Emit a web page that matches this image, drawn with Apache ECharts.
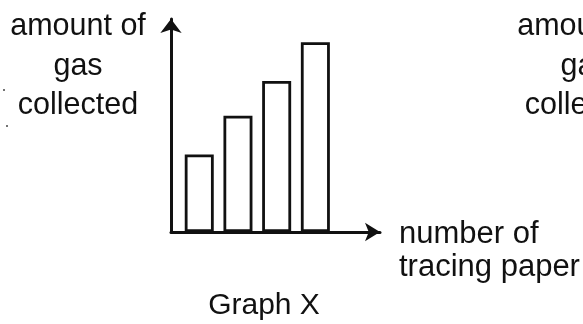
<!DOCTYPE html>
<html>
<head>
<meta charset="utf-8">
<script src="https://cdn.jsdelivr.net/npm/echarts@6/dist/echarts.min.js"></script>
<style>
html,body{margin:0;padding:0;background:#fff;}
#c{width:583px;height:324px;}
</style>
</head>
<body>
<div id="c"></div>
<script>
// Data
var barPositions = [1, 2, 3, 4];           // bar order along x
var gasAmounts = [2, 3, 3.9, 4.9];         // relative amount of gas collected
var yAxisLabelLines = ['amount of', 'gas', 'collected'];
var xAxisLabelLines = ['number of', 'tracing paper'];
var chartTitle = 'Graph X';

var chart = echarts.init(document.getElementById('c'), null, {renderer: 'canvas'});
var FONT = '"Liberation Sans", Arial, sans-serif';
var INK = '#111';

var graphics = [];
function addLines(lines, cx, firstY, step, align, size) {
  lines.forEach(function (t, i) {
    graphics.push({
      type: 'text',
      x: cx, y: firstY + i * step,
      style: {text: t, fill: INK, font: size + 'px ' + FONT, textAlign: align, textVerticalAlign: 'middle'}
    });
  });
}
addLines(yAxisLabelLines, 78, 27, 39.5, 'center', 30.5);
addLines(yAxisLabelLines, 585, 27, 39.5, 'center', 30.5);
addLines(xAxisLabelLines, 399, 234, 33, 'left', 31);
graphics.push({
  type: 'text', x: 264, y: 306,
  style: {text: chartTitle, fill: INK, font: '30px ' + FONT, textAlign: 'center', textVerticalAlign: 'middle'}
});
// faint scan specks at the left edge
graphics.push({type: 'circle', shape: {cx: 4, cy: 90, r: 1}, style: {fill: '#444'}});
graphics.push({type: 'circle', shape: {cx: 7, cy: 126, r: 1}, style: {fill: '#444'}});

chart.setOption({
  backgroundColor: '#fff',
  animation: false,
  grid: {left: 171, right: 203, top: 19, bottom: 92, containLabel: false},
  xAxis: {
    type: 'value', min: 0.27, max: 5.67,
    axisLine: {show: true, symbol: ['none', 'arrow'], symbolSize: [14, 15],
      lineStyle: {color: INK, width: 3}},
    axisTick: {show: false}, axisLabel: {show: false}, splitLine: {show: false}
  },
  yAxis: {
    type: 'value', min: 0, max: 5.5,
    axisLine: {show: true, symbol: ['none', 'arrow'], symbolSize: [16, 14],
      lineStyle: {color: INK, width: 3}},
    axisTick: {show: false}, axisLabel: {show: false}, splitLine: {show: false}
  },
  series: [{
    type: 'bar',
    data: barPositions.map(function (p, i) { return [p, gasAmounts[i]]; }),
    barWidth: 29,
    itemStyle: {color: '#fff', borderColor: INK, borderWidth: 2.8},
    z: 1
  }],
  graphic: graphics
});
</script>
</body>
</html>
